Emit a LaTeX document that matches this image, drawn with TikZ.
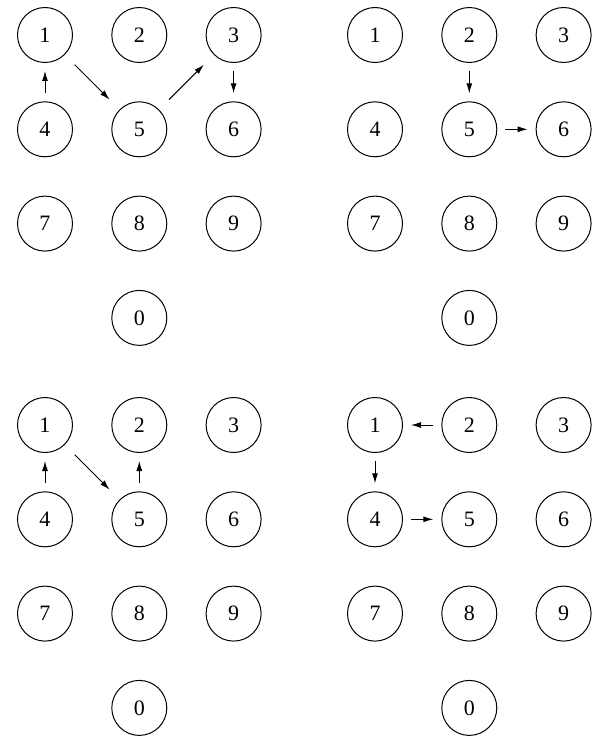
\documentclass[tikz,border=0pt]{standalone}
\usepackage{fontspec}
\setmainfont{Liberation Serif}
\usetikzlibrary{arrows.meta}

\begin{document}
\begin{tikzpicture}[x=0.5pt,y=-0.5pt,>={Latex[length=5pt,width=3pt]},
  key/.style={draw,circle,line width=0.5pt,minimum size=27.5pt,inner sep=0pt,font=\fontsize{11pt}{13pt}\selectfont},
  move/.style={->,line width=0.5pt,shorten <=4pt,shorten >=4pt},
  slant/.style={move,shorten <=7pt,shorten >=7pt}]
\useasboundingbox (0,0) rectangle (601,738);
% four keypads: a top left, b top right, c bottom left, d bottom right
\foreach \p/\ox/\oy in {a/45/35,b/375/35,c/45/425,d/375/425}{
  \begin{scope}[shift={(\ox,\oy)}]
  \node[key] (\p1) at (0,0) {1};
  \node[key] (\p2) at (94.3,0) {2};
  \node[key] (\p3) at (188.6,0) {3};
  \node[key] (\p4) at (0,94.3) {4};
  \node[key] (\p5) at (94.3,94.3) {5};
  \node[key] (\p6) at (188.6,94.3) {6};
  \node[key] (\p7) at (0,188.6) {7};
  \node[key] (\p8) at (94.3,188.6) {8};
  \node[key] (\p9) at (188.6,188.6) {9};
  \node[key] (\p0) at (94.3,282.9) {0};
  \end{scope}
}
% top left
\draw[move] (a4)--(a1);
\draw[slant] (a1)--(a5);
\draw[slant] (a5)--(a3);
\draw[move] (a3)--(a6);
% top right
\draw[move] (b2)--(b5);
\draw[move] (b5)--(b6);
% bottom left
\draw[move] (c4)--(c1);
\draw[slant] (c1)--(c5);
\draw[move] (c5)--(c2);
% bottom right
\draw[move] (d2)--(d1);
\draw[move] (d1)--(d4);
\draw[move] (d4)--(d5);
\end{tikzpicture}
\end{document}
